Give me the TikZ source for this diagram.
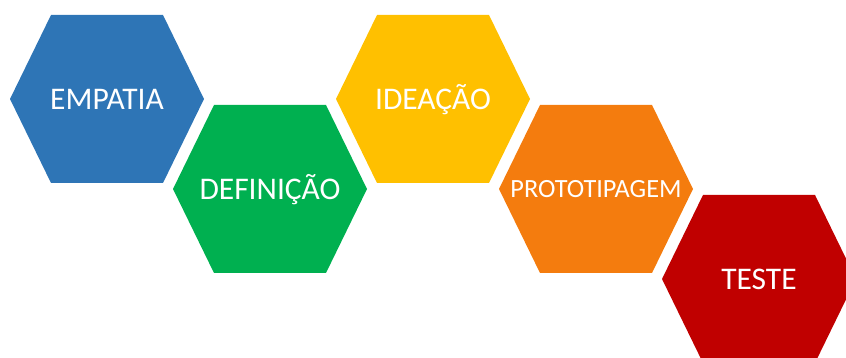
\documentclass[tikz,border=0pt]{standalone}
\usepackage{fontspec}
\setmainfont{Carlito}
\definecolor{hexblue}{RGB}{46,117,182}
\definecolor{hexgreen}{RGB}{0,176,80}
\definecolor{hexyellow}{RGB}{255,192,0}
\definecolor{hexorange}{RGB}{244,124,14}
\definecolor{hexred}{RGB}{192,0,0}
\tikzset{
  hexlabel/.style={text=white, inner sep=0pt, text depth=0pt, text height=20.3pt,
    font=\fontsize{31.5}{31.5}\selectfont},
  smalllabel/.style={hexlabel, text height=16.9pt, font=\fontsize{26.3}{26.3}\selectfont},
}
\newcommand{\hexfill}[2]{\fill[#2] (#1) ++(-97,0) -- ++(41,84) -- ++(112,0) -- ++(41,-84) -- ++(-41,-84) -- ++(-112,0) -- cycle;}
\begin{document}
\begin{tikzpicture}[x=1pt,y=1pt]
			\useasboundingbox (0,0) rectangle (846,358);
			\clip (0,0) rectangle (846,358);
			
			\coordinate (c1) at (107,259);
			\coordinate (c2) at (270,169);
			\coordinate (c3) at (433,259);
			\coordinate (c4) at (596,169);
			\coordinate (c5) at (759,79);
			
			\hexfill{c1}{hexblue}
			\hexfill{c2}{hexgreen}
			\hexfill{c3}{hexyellow}
			\hexfill{c4}{hexorange}
			\hexfill{c5}{hexred}
			
			\node[hexlabel] (empatia) at (c1) {EMPATIA};
			\node[hexlabel] (definicao) at (c2) {DEFINIÇÃO};
			\node[hexlabel] (ideacao) at (c3) {IDEAÇÃO};
			\node[smalllabel] (prototipagem) at (c4) {PROTOTIPAGEM};
			\node[hexlabel] (teste) at (c5) {TESTE};
		\end{tikzpicture}
\end{document}
